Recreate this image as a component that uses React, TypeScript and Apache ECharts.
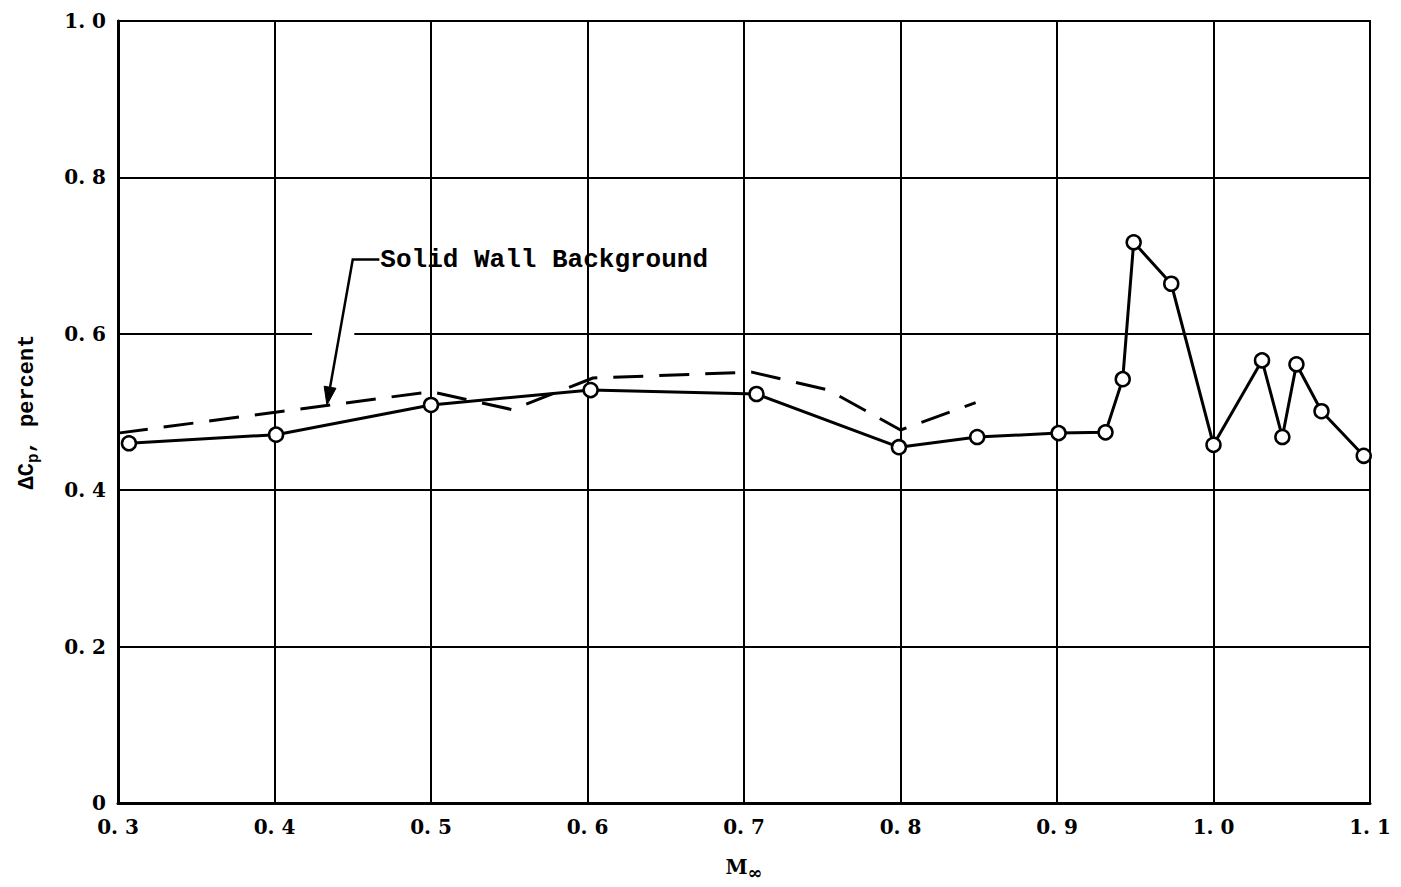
import React, { useEffect, useRef } from "react";
import * as echarts from "echarts";

// Solid line with circles (measured)
const machSolid = [0.307, 0.401, 0.5, 0.602, 0.708, 0.799, 0.849, 0.901, 0.931, 0.942, 0.949, 0.973, 1.0, 1.031, 1.044, 1.053, 1.069, 1.096];
const cpSolid = [0.46, 0.471, 0.509, 0.528, 0.523, 0.455, 0.468, 0.473, 0.474, 0.542, 0.717, 0.664, 0.458, 0.566, 0.468, 0.561, 0.501, 0.444];

// Dashed "Solid Wall Background" line
const machDash = [0.3, 0.5, 0.552, 0.6035, 0.705, 0.754, 0.8, 0.848];
const cpDash = [0.473, 0.526, 0.503, 0.5435, 0.551, 0.528, 0.477, 0.512];

// Axis ticks
const xTicks = [0.3, 0.4, 0.5, 0.6, 0.7, 0.8, 0.9, 1.0, 1.1];
const yTicks = [0, 0.2, 0.4, 0.6, 0.8, 1.0];

// Annotation anchors (data coordinates)
const annoLabel = "Solid Wall Background";
const annoTextAt = [0.467, 0.695];
const annoElbow = [0.45, 0.695];
const annoTip = [0.4335, 0.509];
// scan gap in the 0.6 grid line
const gridGap = [0.424, 0.451, 0.6];

const fmt = (v: number) => (v === 0 ? "0" : v.toFixed(1).replace(".", ". "));

export default function App() {
  const ref = useRef<HTMLDivElement>(null);
  useEffect(() => {
    if (!ref.current) return;
    const chart = echarts.init(ref.current, null, { renderer: "svg" });
    const tickFont = { fontFamily: "DejaVu Serif", fontWeight: "bold" as const, fontSize: 20, color: "#000", lineHeight: 17 };
    chart.setOption({
      animation: false,
      backgroundColor: "#fff",
      grid: { left: 118, right: 31, top: 21, bottom: 84, show: true, borderColor: "#000", borderWidth: 2 },
      xAxis: {
        type: "value",
        min: xTicks[0],
        max: xTicks[xTicks.length - 1],
        interval: 0.1,
        axisLine: { show: true, onZero: false, lineStyle: { color: "#000", width: 3 } },
        axisTick: { show: false },
        splitLine: { show: true, lineStyle: { color: "#000", width: 2 } },
        axisLabel: { ...tickFont, margin: 15, formatter: (v: number) => fmt(v) },
        name: "{a|M}{s|∞}",
        nameLocation: "middle",
        nameGap: 50,
        nameTextStyle: {
          rich: {
            a: { fontFamily: "DejaVu Serif", fontWeight: "bold", fontSize: 20, color: "#000", lineHeight: 28, verticalAlign: "middle" },
            s: { fontFamily: "DejaVu Serif", fontWeight: "bold", fontSize: 18, color: "#000", lineHeight: 28, verticalAlign: "bottom" },
          },
        },
      },
      yAxis: {
        type: "value",
        min: yTicks[0],
        max: yTicks[yTicks.length - 1],
        interval: 0.2,
        axisLine: { show: true, onZero: false, lineStyle: { color: "#000", width: 3 } },
        axisTick: { show: false },
        splitLine: { show: true, lineStyle: { color: "#000", width: 2 } },
        axisLabel: { ...tickFont, margin: 12, formatter: (v: number) => fmt(v) },
        name: "{a|ΔC}{s|p}{a|, percent}",
        nameLocation: "middle",
        nameRotate: 90,
        nameGap: 76,
        nameTextStyle: {
          rich: {
            a: { fontFamily: "Liberation Mono", fontWeight: "bold", fontSize: 22, color: "#000", lineHeight: 30, verticalAlign: "middle" },
            s: { fontFamily: "Liberation Mono", fontWeight: "bold", fontSize: 16, color: "#000", lineHeight: 30, verticalAlign: "bottom" },
          },
        },
      },
      series: [
        {
          type: "line",
          data: machDash.map((x, i) => [x, cpDash[i]]),
          showSymbol: false,
          symbol: "none",
          lineStyle: { color: "#000", width: 3, type: [30, 16] },
          z: 3,
        },
        {
          type: "line",
          data: machSolid.map((x, i) => [x, cpSolid[i]]),
          symbol: "circle",
          symbolSize: 14,
          itemStyle: { color: "#fff", borderColor: "#000", borderWidth: 2.5 },
          lineStyle: { color: "#000", width: 3 },
          z: 4,
        },
      ],
    });

    const px = (p: number[]) => chart.convertToPixel({ gridIndex: 0 }, p) as number[];
    const t = px(annoTextAt);
    const e = px(annoElbow);
    const tip = px(annoTip);
    const dx = tip[0] - e[0];
    const dy = tip[1] - e[1];
    const len = Math.hypot(dx, dy);
    const ux = dx / len;
    const uy = dy / len;
    const headLen = 18;
    const headHalf = 6;
    const base = [tip[0] - ux * headLen, tip[1] - uy * headLen];
    const g1 = px([gridGap[0], gridGap[2]]);
    const g2 = px([gridGap[1], gridGap[2]]);

    chart.setOption({
      graphic: [
        {
          type: "rect",
          z: 1,
          silent: true,
          shape: { x: g1[0], y: g1[1] - 4, width: g2[0] - g1[0], height: 8 },
          style: { fill: "#fff" },
        },
        {
          type: "polyline",
          z: 10,
          silent: true,
          shape: { points: [[t[0], t[1]], [e[0], e[1]], base] },
          style: { stroke: "#000", lineWidth: 2.5, fill: "none" },
        },
        {
          type: "polygon",
          z: 10,
          silent: true,
          shape: {
            points: [
              [tip[0], tip[1]],
              [base[0] - uy * headHalf, base[1] + ux * headHalf],
              [base[0] + uy * headHalf, base[1] - ux * headHalf],
            ],
          },
          style: { fill: "#000", stroke: "#000", lineWidth: 1 },
        },
        {
          type: "text",
          z: 10,
          silent: true,
          x: t[0] + 1,
          y: t[1],
          style: {
            text: annoLabel,
            font: 'bold 26px "Liberation Mono"',
            fill: "#000",
            align: "left",
            verticalAlign: "middle",
          },
        },
      ],
    });

    return () => chart.dispose();
  }, []);
  return <div ref={ref} style={{ position: "fixed", left: 0, top: 0, width: 1401, height: 887, background: "#fff" }} />;
}
